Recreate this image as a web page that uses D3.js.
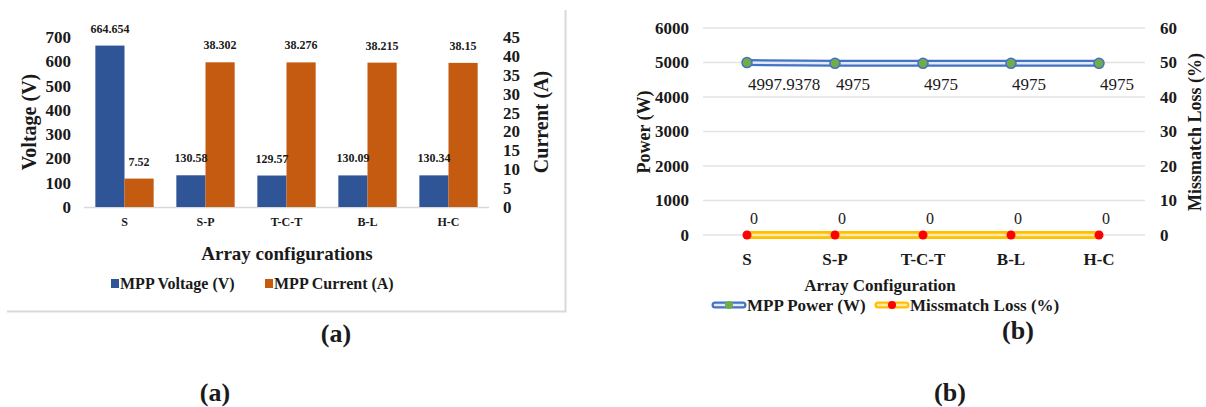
<!DOCTYPE html>
<html>
<head>
<meta charset="utf-8">
<script src="https://cdn.jsdelivr.net/npm/d3@7"></script>
<style>
  html, body { margin: 0; padding: 0; background: #fff; }
  svg { display: block; font-family: "Liberation Serif", "Times New Roman", serif; }
</style>
</head>
<body>
<svg id="chart" width="1206" height="407"></svg>
<script>
// ---------- DATA ----------
const categoriesA = ["S", "S-P", "T-C-T", "B-L", "H-C"];
const voltageValues = [664.654, 130.58, 129.57, 130.09, 130.34];
const currentValues = [7.52, 38.302, 38.276, 38.215, 38.15];
const voltageLabels = ["664.654", "130.58", "129.57", "130.09", "130.34"];
const currentLabels = ["7.52", "38.302", "38.276", "38.215", "38.15"];
const voltageTicks = [0, 100, 200, 300, 400, 500, 600, 700];
const currentTicks = [0, 5, 10, 15, 20, 25, 30, 35, 40, 45];

const categoriesB = ["S", "S-P", "T-C-T", "B-L", "H-C"];
const powerValues = [4997.9378, 4975, 4975, 4975, 4975];
const powerLabels = ["4997.9378", "4975", "4975", "4975", "4975"];
const lossValues = [0, 0, 0, 0, 0];
const lossLabels = ["0", "0", "0", "0", "0"];
const powerTicks = [0, 1000, 2000, 3000, 4000, 5000, 6000];
const lossTicks = [0, 10, 20, 30, 40, 50, 60];

const svg = d3.select("#chart");
const TXT = "#1a1a1a";
const FONT = "Liberation Serif";

// ================= PANEL (a) =================
const gA = svg.append("g");
gA.append("path")
  .attr("d", "M565.5,10 V311.5 H7")
  .attr("fill", "none").attr("stroke", "#d9d9d9").attr("stroke-width", 2);

const x0 = d3.scaleBand().domain(categoriesA).range([84, 489]).paddingInner(0.28).paddingOuter(0.14);
const x1 = d3.scaleBand().domain(["V", "I"]).range([0, x0.bandwidth()]);
const yV = d3.scaleLinear().domain([0, 700]).range([207, 37]);
const yI = d3.scaleLinear().domain([0, 45]).range([207, 37]);

gA.append("line").attr("x1", 84).attr("x2", 489).attr("y1", yV(0) + 0.5).attr("y2", yV(0) + 0.5)
  .attr("stroke", "#d9d9d9").attr("stroke-width", 1.5);

const axL = gA.append("g").attr("transform", "translate(71,0)")
  .call(d3.axisLeft(yV).tickValues(voltageTicks).tickFormat(d3.format("d")).tickSize(0).tickPadding(0));
axL.select(".domain").remove();
axL.attr("font-family", FONT);
axL.selectAll("text").attr("font-size", 17).attr("font-weight", "bold").attr("fill", TXT);

const axR = gA.append("g").attr("transform", "translate(503,0)")
  .call(d3.axisRight(yI).tickValues(currentTicks).tickFormat(d3.format("d")).tickSize(0).tickPadding(0));
axR.select(".domain").remove();
axR.attr("font-family", FONT);
axR.selectAll("text").attr("font-size", 17).attr("font-weight", "bold").attr("fill", TXT);

const grp = gA.selectAll(".grp").data(categoriesA).join("g")
  .attr("transform", d => `translate(${x0(d)},0)`);
grp.append("rect")
  .attr("x", x1("V")).attr("width", x1.bandwidth())
  .attr("y", (d, i) => yV(voltageValues[i])).attr("height", (d, i) => yV(0) - yV(voltageValues[i]))
  .attr("fill", "#2F5597");
grp.append("rect")
  .attr("x", x1("I")).attr("width", x1.bandwidth())
  .attr("y", (d, i) => yI(currentValues[i])).attr("height", (d, i) => yI(0) - yI(currentValues[i]))
  .attr("fill", "#C55A11");
grp.append("text")
  .attr("x", x1("V") + x1.bandwidth() / 2).attr("y", (d, i) => yV(voltageValues[i]) - 13)
  .attr("text-anchor", "middle").attr("font-size", 12).attr("font-weight", "bold").attr("fill", TXT)
  .text((d, i) => voltageLabels[i]);
grp.append("text")
  .attr("x", x1("I") + x1.bandwidth() / 2).attr("y", (d, i) => yI(currentValues[i]) - 13)
  .attr("text-anchor", "middle").attr("font-size", 12).attr("font-weight", "bold").attr("fill", TXT)
  .text((d, i) => currentLabels[i]);

gA.selectAll(".xl").data(categoriesA).join("text")
  .attr("x", d => x0(d) + x0.bandwidth() / 2).attr("y", 226)
  .attr("text-anchor", "middle").attr("font-size", 12).attr("font-weight", "bold").attr("fill", TXT)
  .text(d => d);

gA.append("text").attr("transform", "translate(36,122) rotate(-90)")
  .attr("text-anchor", "middle").attr("font-size", 20).attr("font-weight", "bold").attr("fill", TXT)
  .text("Voltage (V)");
gA.append("text").attr("transform", "translate(548,122) rotate(-90)")
  .attr("text-anchor", "middle").attr("font-size", 20).attr("font-weight", "bold").attr("fill", TXT)
  .text("Current (A)");
gA.append("text").attr("x", 287).attr("y", 260)
  .attr("text-anchor", "middle").attr("font-size", 19).attr("font-weight", "bold").attr("fill", TXT)
  .text("Array configurations");

const legA = [{ c: "#2F5597", t: "MPP Voltage (V)", x: 111 }, { c: "#C55A11", t: "MPP Current (A)", x: 265 }];
legA.forEach(l => {
  gA.append("rect").attr("x", l.x).attr("y", 279).attr("width", 8).attr("height", 9).attr("fill", l.c);
  gA.append("text").attr("x", l.x + 9).attr("y", 289).attr("font-size", 16).attr("font-weight", "bold")
    .attr("fill", TXT).text(l.t);
});

// ================= PANEL (b) =================
const gB = svg.append("g");
const xb = d3.scaleBand().domain(categoriesB).range([703, 1143]);
const yP = d3.scaleLinear().domain([0, 6000]).range([235, 28]);
const yM = d3.scaleLinear().domain([0, 60]).range([235, 28]);
const cx = d => xb(d) + xb.bandwidth() / 2;

gB.append("g").selectAll("line").data(powerTicks).join("line")
  .attr("x1", 703).attr("x2", 1145).attr("y1", d => yP(d)).attr("y2", d => yP(d))
  .attr("stroke", "#e3e3e3").attr("stroke-width", 1.5);

const bL = gB.append("g").attr("transform", "translate(689,0)")
  .call(d3.axisLeft(yP).tickValues(powerTicks).tickFormat(d3.format("d")).tickSize(0).tickPadding(0));
bL.select(".domain").remove();
bL.attr("font-family", FONT);
bL.selectAll("text").attr("font-size", 17).attr("font-weight", "bold").attr("fill", TXT);
const bR = gB.append("g").attr("transform", "translate(1160,0)")
  .call(d3.axisRight(yM).tickValues(lossTicks).tickFormat(d3.format("d")).tickSize(0).tickPadding(0));
bR.select(".domain").remove();
bR.attr("font-family", FONT);
bR.selectAll("text").attr("font-size", 17).attr("font-weight", "bold").attr("fill", TXT);

const linePow = d3.line().x((d, i) => cx(categoriesB[i])).y(d => yP(d));
const lineLoss = d3.line().x((d, i) => cx(categoriesB[i])).y(d => yM(d));

gB.append("path").attr("d", lineLoss(lossValues)).attr("fill", "none")
  .attr("stroke", "#FFC000").attr("stroke-width", 8).attr("stroke-linecap", "round");
gB.append("path").attr("d", lineLoss(lossValues)).attr("fill", "none")
  .attr("stroke", "#FFE9A8").attr("stroke-width", 2.5).attr("stroke-linecap", "round");
gB.selectAll(".mm").data(lossValues).join("circle")
  .attr("cx", (d, i) => cx(categoriesB[i])).attr("cy", d => yM(d)).attr("r", 4.5).attr("fill", "#FF0000");

gB.append("path").attr("d", linePow(powerValues)).attr("fill", "none")
  .attr("stroke", "#4472C4").attr("stroke-width", 7).attr("stroke-linecap", "round");
gB.append("path").attr("d", linePow(powerValues)).attr("fill", "none")
  .attr("stroke", "#E3EAF7").attr("stroke-width", 2.5).attr("stroke-linecap", "round");
gB.selectAll(".pm").data(powerValues).join("circle")
  .attr("cx", (d, i) => cx(categoriesB[i])).attr("cy", d => yP(d)).attr("r", 5)
  .attr("fill", "#70AD47").attr("stroke", "#4472C4").attr("stroke-width", 1.5);

gB.selectAll(".pl").data(powerValues).join("text")
  .attr("x", (d, i) => cx(categoriesB[i]) + 1).attr("y", d => yP(d) + 27)
  .attr("font-size", 17).attr("fill", TXT).text((d, i) => powerLabels[i]);
gB.selectAll(".ll").data(lossValues).join("text")
  .attr("x", (d, i) => cx(categoriesB[i]) + 7).attr("y", d => yM(d) - 11)
  .attr("text-anchor", "middle").attr("font-size", 16).attr("fill", TXT).text((d, i) => lossLabels[i]);

gB.selectAll(".xb").data(categoriesB).join("text")
  .attr("x", d => cx(d)).attr("y", 265)
  .attr("text-anchor", "middle").attr("font-size", 17).attr("font-weight", "bold").attr("fill", TXT)
  .text(d => d);

gB.append("text").attr("transform", "translate(650,132) rotate(-90)")
  .attr("text-anchor", "middle").attr("font-size", 18).attr("font-weight", "bold").attr("fill", TXT)
  .text("Power (W)");
gB.append("text").attr("transform", "translate(1201,132) rotate(-90)")
  .attr("text-anchor", "middle").attr("font-size", 18).attr("font-weight", "bold").attr("fill", TXT)
  .text("Missmatch Loss (%)");
gB.append("text").attr("x", 880).attr("y", 291)
  .attr("text-anchor", "middle").attr("font-size", 17).attr("font-weight", "bold").attr("fill", TXT)
  .text("Array Configuration");

const legB = [
  { o: "#4472C4", i: "#E3EAF7", m: "#70AD47", t: "MPP Power (W)", x: 712 },
  { o: "#FFC000", i: "#FFE9A8", m: "#FF0000", t: "Missmatch Loss (%)", x: 875 }
];
legB.forEach(l => {
  gB.append("line").attr("x1", l.x + 3).attr("x2", l.x + 31).attr("y1", 305).attr("y2", 305)
    .attr("stroke", l.o).attr("stroke-width", 7).attr("stroke-linecap", "round");
  gB.append("line").attr("x1", l.x + 3).attr("x2", l.x + 31).attr("y1", 305).attr("y2", 305)
    .attr("stroke", l.i).attr("stroke-width", 2.5).attr("stroke-linecap", "round");
  gB.append("circle").attr("cx", l.x + 17).attr("cy", 305).attr("r", 4).attr("fill", l.m);
  gB.append("text").attr("x", l.x + 35).attr("y", 311).attr("font-size", 17).attr("font-weight", "bold")
    .attr("fill", TXT).text(l.t);
});

const caps = [
  { t: "(a)", x: 336, y: 342 },
  { t: "(b)", x: 1018, y: 339 },
  { t: "(a)", x: 215, y: 401 },
  { t: "(b)", x: 950, y: 401 }
];
svg.selectAll(".cap").data(caps).join("text")
  .attr("x", d => d.x).attr("y", d => d.y).attr("text-anchor", "middle")
  .attr("font-size", 26).attr("font-weight", "bold").attr("fill", TXT).text(d => d.t);
</script>
</body>
</html>
